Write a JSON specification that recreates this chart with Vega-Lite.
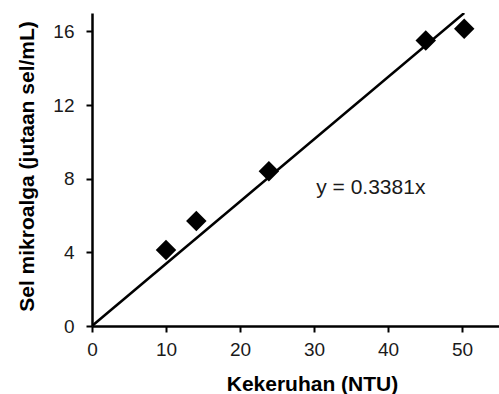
{
  "$schema": "https://vega.github.io/schema/vega-lite/v6.json",
  "width": 407,
  "height": 313,
  "autosize": "none",
  "padding": {"left": 92, "top": 13, "right": 0, "bottom": 68},
  "background": "white",
  "config": {
    "view": {"stroke": null},
    "font": "Liberation Sans",
    "axis": {
      "grid": false,
      "domainColor": "black",
      "domainWidth": 2.5,
      "tickColor": "black",
      "tickWidth": 2,
      "tickSize": 6,
      "labelFlush": false,
      "labelFont": "Liberation Sans",
      "labelFontSize": 19,
      "labelColor": "#1a1a1a",
      "titleFont": "Liberation Sans",
      "titleFontSize": 21,
      "titleFontWeight": "bold",
      "titleColor": "black"
    }
  },
  "datasets": {
    "points": [
      {"x": 10.0, "y": 4.13},
      {"x": 14.1, "y": 5.7},
      {"x": 23.9, "y": 8.4},
      {"x": 45.1, "y": 15.5},
      {"x": 50.3, "y": 16.15}
    ],
    "trend": [
      {"x": 0, "y": 0},
      {"x": 50.3, "y": 17.0}
    ],
    "label": [
      {"x": 30.3, "y": 7.5, "text": "y = 0.3381x"}
    ]
  },
  "layer": [
    {
      "data": {"name": "trend"},
      "mark": {"type": "line", "color": "black", "strokeWidth": 2.5, "clip": true},
      "encoding": {
        "x": {
          "field": "x", "type": "quantitative",
          "scale": {"domain": [0, 55], "nice": false},
          "axis": {"values": [0, 10, 20, 30, 40, 50], "title": "Kekeruhan (NTU)", "labelPadding": 8, "titleX": 220, "titleY": 64, "titleBaseline": "alphabetic", "titleAlign": "center"}
        },
        "y": {
          "field": "y", "type": "quantitative",
          "scale": {"domain": [0, 17], "nice": false},
          "axis": {"values": [0, 4, 8, 12, 16], "title": "Sel mikroalga (jutaan sel/mL)", "labelPadding": 12, "titleX": -59, "titleY": 153, "titleBaseline": "alphabetic", "titleAlign": "center", "titleAngle": -90}
        }
      }
    },
    {
      "data": {"name": "points"},
      "mark": {"type": "point", "shape": "diamond", "filled": true, "color": "black", "opacity": 1, "size": 420},
      "encoding": {
        "x": {"field": "x", "type": "quantitative"},
        "y": {"field": "y", "type": "quantitative"}
      }
    },
    {
      "data": {"name": "label"},
      "mark": {"type": "text", "align": "left", "baseline": "middle", "fontSize": 21, "color": "#1a1a1a"},
      "encoding": {
        "x": {"field": "x", "type": "quantitative"},
        "y": {"field": "y", "type": "quantitative"},
        "text": {"field": "text"}
      }
    }
  ]
}
